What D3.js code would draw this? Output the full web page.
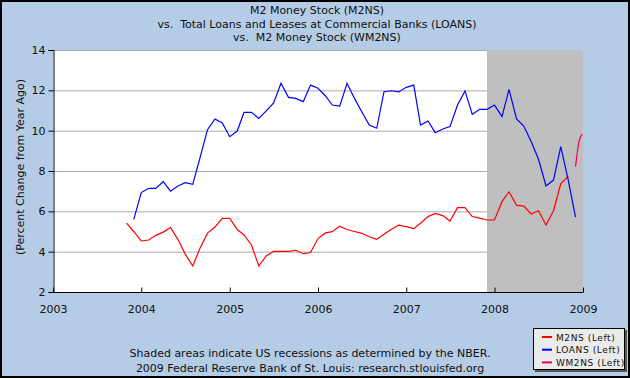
<!DOCTYPE html>
<html><head><meta charset="utf-8">
<script src="https://cdn.jsdelivr.net/npm/d3@7"></script>
<style>body{margin:0;background:#b4cce5}svg{display:block;font-family:"DejaVu Sans",Verdana,sans-serif}text{white-space:pre}</style>
</head><body><svg id="c" width="630" height="378"></svg>
<script>
const titleLines = ["M2 Money Stock (M2NS)", "vs.  Total Loans and Leases at Commercial Banks (LOANS)", "vs.  M2 Money Stock (WM2NS)"];
const yAxisLabel = "(Percent Change from Year Ago)";
const footLines = ["Shaded areas indicate US recessions as determined by the NBER.", "2009 Federal Reserve Bank of St. Louis: research.stlouisfed.org"];
const yTicks = [2, 4, 6, 8, 10, 12, 14];
const xTickYears = [2003, 2004, 2005, 2006, 2007, 2008, 2009];
const recessions = [["2007-12-01", "2009-01-01"]];
const seriesNames = ["M2NS (Left)", "LOANS (Left)", "WM2NS (Left)"];
const seriesColors = ["#ff0000", "#0000ff", "#f0005a"];

// monthly, starting Nov 2003
const m2nsStart = "2003-11-01";
const m2nsValues = [5.42, 5.0,
  4.53, 4.58, 4.81, 4.97, 5.2, 4.6, 3.88, 3.29, 4.2, 4.92, 5.22, 5.65,
  5.65, 5.1, 4.83, 4.33, 3.29, 3.79, 4.01, 4.02, 4.01, 4.07, 3.9, 3.96,
  4.65, 4.93, 4.99, 5.26, 5.1, 5.0, 4.91, 4.74, 4.61, 4.86, 5.11, 5.31,
  5.24, 5.14, 5.41, 5.74, 5.9, 5.79, 5.52, 6.18, 6.18, 5.74, 5.66, 5.57,
  5.57, 6.48, 6.97, 6.31, 6.26, 5.87, 6.03, 5.32, 6.03, 7.36, 7.75];
// monthly, starting Dec 2003
const loansStart = "2003-12-01";
const loansValues = [5.6,
  6.93, 7.14, 7.14, 7.47, 7.0, 7.26, 7.42, 7.34, 8.7, 10.05, 10.58, 10.38,
  9.7, 9.98, 10.91, 10.91, 10.61, 10.98, 11.36, 12.35, 11.65, 11.6, 11.44, 12.26,
  12.1, 11.72, 11.27, 11.22, 12.35, 11.6, 10.94, 10.28, 10.12, 11.93, 11.98, 11.92,
  12.15, 12.26, 10.28, 10.48, 9.9, 10.08, 10.2, 11.27, 11.97, 10.81, 11.06, 11.06,
  11.27, 10.7, 12.05, 10.58, 10.23, 9.45, 8.58, 7.26, 7.55, 9.21, 7.55, 5.71];
// weekly
const wm2nsDates = ["2008-12-01", "2008-12-08", "2008-12-15", "2008-12-22", "2008-12-29"];
const wm2nsValues = [8.21, 8.9, 9.45, 9.7, 9.83];

const parse = d3.timeParse("%Y-%m-%d");
const monthly = (start, vals) => vals.map((v, i) => ({d: d3.timeMonth.offset(parse(start), i), v}));
const series = [
  monthly(m2nsStart, m2nsValues),
  monthly(loansStart, loansValues),
  wm2nsDates.map((s, i) => ({d: parse(s), v: wm2nsValues[i]}))
];

const W = 630, H = 378;
const L = 53, R = 583, T = 50, B = 292;
const svg = d3.select("#c");
const x = d3.scaleTime().domain([new Date(2003, 0, 1), new Date(2009, 0, 1)]).range([L, R]);
const y = d3.scaleLinear().domain([2, 14]).range([B, T]);

svg.append("rect").attr("x", 0).attr("y", 0).attr("width", W).attr("height", H).attr("fill", "#b4cce5");
svg.append("rect").attr("x", 1).attr("y", 1).attr("width", W - 2).attr("height", H - 2)
  .attr("fill", "none").attr("stroke", "#000").attr("stroke-width", 2);

// titles
svg.append("g").selectAll("text").data(titleLines).join("text")
  .attr("x", 317).attr("y", (d, i) => 14 + i * 13.7)
  .attr("text-anchor", "middle").attr("font-size", 11).attr("fill", "#111").text(d => d);

// plot bg
svg.append("rect").attr("x", L).attr("y", T).attr("width", R - L).attr("height", B - T).attr("fill", "#fff");
// grid
svg.append("g").selectAll("line").data(yTicks.filter(t => t > 2)).join("line")
  .attr("x1", L).attr("x2", R).attr("y1", d => y(d) + 0.5).attr("y2", d => y(d) + 0.5)
  .attr("stroke", "#aaa").attr("stroke-width", 1);
// recession shading
svg.append("g").selectAll("rect").data(recessions).join("rect")
  .attr("x", d => x(parse(d[0]))).attr("y", T)
  .attr("width", d => x(parse(d[1])) - x(parse(d[0]))).attr("height", B - T)
  .attr("fill", "#bfbfbf");

// lines
const line = d3.line().x(d => x(d.d)).y(d => y(d.v));
series.forEach((s, i) => {
  svg.append("path").datum(s).attr("d", line).attr("fill", "none")
    .attr("stroke", seriesColors[i]).attr("stroke-width", 1.2).attr("stroke-linejoin", "miter");
});

// left axis
const ya = svg.append("g").attr("transform", `translate(${L + 0.5},0)`)
  .call(d3.axisLeft(y).tickValues(yTicks).tickSize(5).tickPadding(3).tickFormat(d3.format("d")));
ya.select(".domain").attr("stroke", "#000");
ya.selectAll(".tick line").attr("stroke", "#000");
ya.selectAll("text").attr("font-size", 11).attr("font-family", "DejaVu Sans").attr("fill", "#111");
// bottom axis (ticks inward)
const xa = svg.append("g").attr("transform", `translate(0,${B + 0.5})`)
  .call(d3.axisBottom(x).tickValues(xTickYears.map(yr => new Date(yr, 0, 1))).tickSize(-5).tickPadding(13).tickFormat(d3.timeFormat("%Y")));
xa.select(".domain").attr("stroke", "#000").attr("d", `M${L},0H${R}`);
xa.selectAll(".tick line").attr("stroke", "#000");
xa.selectAll("text").attr("font-size", 11).attr("font-family", "DejaVu Sans").attr("fill", "#111");

// y label
svg.append("text").attr("transform", "translate(24,167) rotate(-90)").attr("text-anchor", "middle")
  .attr("font-size", 11).attr("fill", "#111").text(yAxisLabel);

// footnote
svg.append("g").selectAll("text").data(footLines).join("text")
  .attr("x", 310).attr("y", (d, i) => 357 + i * 14.5)
  .attr("text-anchor", "middle").attr("font-size", 11).attr("fill", "#111").text(d => d);

// legend
const lg = svg.append("g");
lg.append("rect").attr("x", 535).attr("y", 330).attr("width", 92).attr("height", 42).attr("fill", "#555");
lg.append("rect").attr("x", 533.5).attr("y", 328.5).attr("width", 91).attr("height", 41).attr("fill", "#ebebeb").attr("stroke", "#000");
seriesNames.forEach((n, i) => {
  const yy = 337 + i * 12.7;
  lg.append("line").attr("x1", 542).attr("x2", 552).attr("y1", yy).attr("y2", yy)
    .attr("stroke", seriesColors[i]).attr("stroke-width", 2);
  lg.append("text").attr("x", 556).attr("y", yy + 3.5).attr("font-size", 9).attr("letter-spacing", 0.6)
    .attr("fill", "#111").text(n);
});
</script></body></html>
